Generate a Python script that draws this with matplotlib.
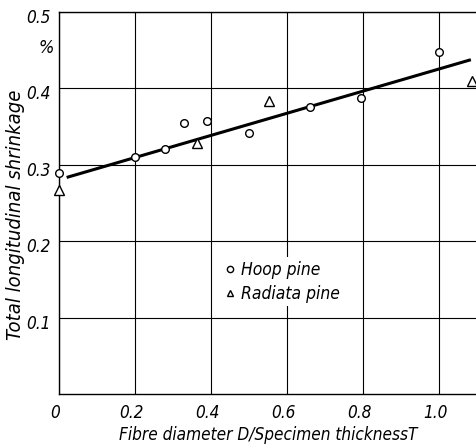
import matplotlib
matplotlib.use("Agg")
import matplotlib.pyplot as plt
from matplotlib import font_manager
from matplotlib.transforms import ScaledTranslation
import numpy as np

hoop_x = [0.0, 0.2, 0.28, 0.33, 0.39, 0.5, 0.66, 0.795, 1.0]
hoop_y = [0.289, 0.310, 0.321, 0.355, 0.357, 0.342, 0.375, 0.387, 0.448]
rad_x = [0.0, 0.363, 0.553, 1.087]
rad_y = [0.267, 0.328, 0.384, 0.410]
fit_x = [0.024, 1.08]
fit_y = [0.284, 0.437]
xticks = [0, 0.2, 0.4, 0.6, 0.8, 1.0]
xticklabels = ["0", "0.2", "0.4", "0.6", "0.8", "1.0"]
yticks = [0.1, 0.2, 0.3, 0.4, 0.5]
yticklabels = ["0.1", "0.2", "0.3", "0.4", "0.5"]

font = dict(family=["DejaVu Sans"], style="italic", stretch="condensed")

fig = plt.figure(figsize=(4.77, 4.45), dpi=100)
ax = fig.add_axes([59/477, 51/445, 1 - 59/477, (394-12)/445])
ax.set_xlim(0, 1.1)
ax.set_ylim(0, 0.5)
for s in ["left", "bottom", "top"]:
    ax.spines[s].set_linewidth(1.0)
ax.spines["right"].set_visible(False)
ax.set_xticks(xticks)
ax.set_yticks(yticks)
ax.set_xticklabels(xticklabels, fontsize=12.3, **font)
ax.set_yticklabels(yticklabels, fontsize=12.3, **font)
ax.tick_params(axis="x", length=0, pad=7)
ax.tick_params(axis="y", length=0, pad=6)
for lab in ax.get_xticklabels():
    lab.set_transform(lab.get_transform() + ScaledTranslation(-4/100, 0, fig.dpi_scale_trans))
for lab in ax.get_yticklabels():
    lab.set_transform(lab.get_transform() + ScaledTranslation(0, -4/100, fig.dpi_scale_trans))
ax.grid(True, color="black", linewidth=0.8)
ax.set_axisbelow(True)

ax.plot(fit_x, fit_y, color="black", linewidth=2.2, zorder=3)
ax.plot(hoop_x, hoop_y, linestyle="none", marker="o", markersize=5.5,
        markerfacecolor="white", markeredgecolor="black", markeredgewidth=1.0,
        clip_on=False, zorder=4, label="Hoop pine")
ax.plot(rad_x, rad_y, linestyle="none", marker="^", markersize=6.5,
        markerfacecolor="white", markeredgecolor="black", markeredgewidth=1.0,
        clip_on=False, zorder=4, label="Radiata pine")

leg = ax.legend(loc="center left", bbox_to_anchor=(0.368, 0.294), frameon=True,
                facecolor="white", edgecolor="none", framealpha=1,
                handlelength=0.6, handletextpad=0.3, borderpad=0.2,
                labelspacing=0.35, prop=font_manager.FontProperties(size=12.5, **font))
for h in leg.legend_handles:
    h.set_markersize(4.5)

ax.set_xlabel("Fibre diameter D/Specimen thicknessT", fontsize=12.3, **font)
ax.set_ylabel("Total longitudinal shrinkage", fontsize=14.5, **font)
ax.xaxis.set_label_coords(0.5, (394 - 435) / 382)
ax.yaxis.set_label_coords((16 - 59) / 418, (394 - 215) / 382)
ax.xaxis.label.set_va("center")
ax.yaxis.label.set_va("center")
fig.text(46/477, 1 - 48/445, "%", ha="center", va="center", fontsize=13, **font)

fig.savefig("out.png", dpi=100)
